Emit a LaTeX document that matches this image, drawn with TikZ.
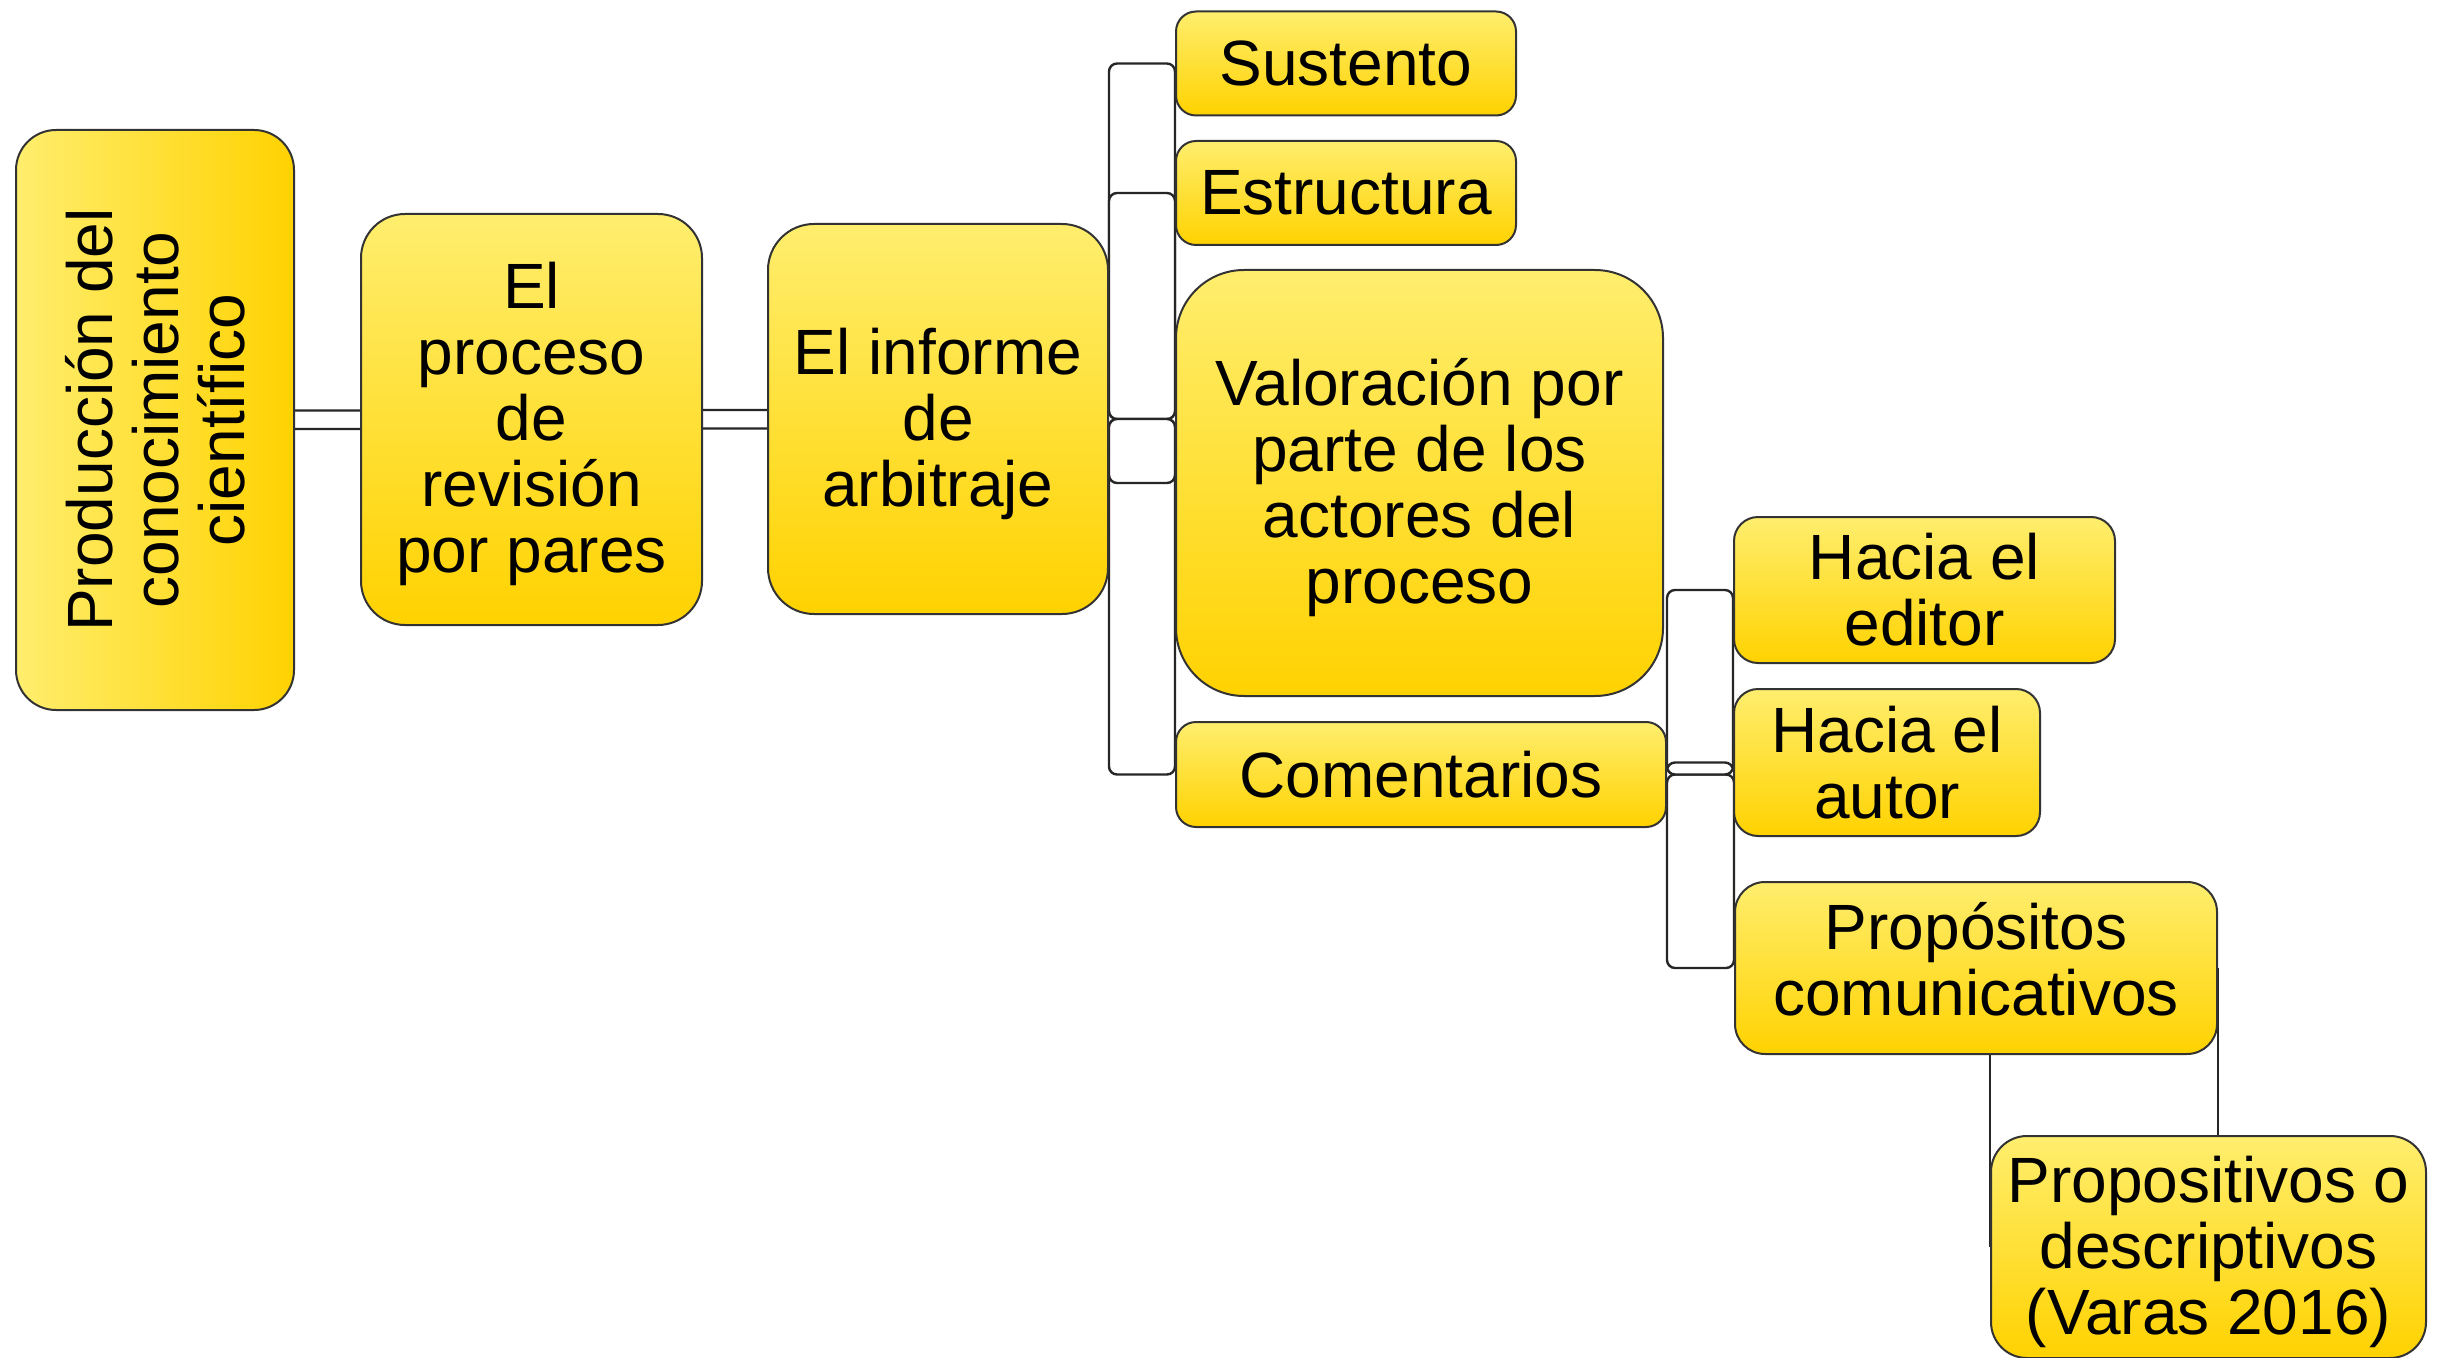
\documentclass[tikz,border=0pt]{standalone}
\usepackage{fontspec}
\setmainfont{Liberation Sans}
\usetikzlibrary{backgrounds,calc}
\definecolor{yl1}{RGB}{255,238,110}
\definecolor{yl2}{RGB}{255,210,0}
\begin{document}
\begin{tikzpicture}[x=0.5pt,y=-0.5pt,
  box/.style={draw=black!80, line width=1pt, top color=yl1, bottom color=yl2,
    rounded corners=#1, align=center, inner sep=0pt,
    font=\fontsize{32}{33}\selectfont},
  hbox/.style={draw=black!80, line width=1pt, left color=yl1, right color=yl2,
    rounded corners=#1, inner sep=0pt},
  conn/.style={draw=black!85, fill=white, line width=1.2pt, rounded corners=4pt},
  cline/.style={draw=black!85, line width=1.2pt}]
\useasboundingbox (0,0) rectangle (2451,1358);

% nodes
\node[hbox=20pt, minimum width=139pt, minimum height=290pt] (prod) at (155,420) {};
\node[rotate=90, align=center, font=\fontsize{32}{33}\selectfont] (prodtext) at (prod.center)
  {Producción del\\conocimiento\\científico};
\node[box=22pt, minimum width=170.5pt, minimum height=205.5pt, text height=160pt] (proceso) at (531.5,419.5)
  {El\\proceso\\de\\revisión\\por pares};
\node[box=23pt, minimum width=170pt, minimum height=195pt, text height=94pt] (informe) at (938,419)
  {El informe\\de\\arbitraje};
\node[box=10pt, minimum width=170pt, minimum height=52pt] (sustento) at (1346,63.5) {Sustento};
\node[box=10pt, minimum width=170pt, minimum height=52pt] (estructura) at (1346,193) {Estructura};
\node[box=34pt, minimum width=243.5pt, minimum height=213pt, text height=127pt] (valoracion) at (1419.5,483)
  {Valoración por\\parte de los\\actores del\\proceso};
\node[box=10pt, minimum width=245pt, minimum height=52.5pt] (comentarios) at (1421,774.5) {Comentarios};
\node[box=12pt, minimum width=190.5pt, minimum height=73pt] (editor) at (1924.5,590) {Hacia el\\editor};
\node[box=12pt, minimum width=153pt, minimum height=73.5pt] (autor) at (1887,762.5) {Hacia el\\autor};
\node[box=15pt, minimum width=241pt, minimum height=86pt, text depth=9.5pt] (propositos) at (1976,968)
  {Propósitos\\comunicativos};
\node[box=18pt, minimum width=217.5pt, minimum height=111pt, text height=94pt] (propositivos) at (2208.5,1247)
  {Propositivos o\\descriptivos\\(Varas 2016)};

% connectors
\begin{pgfonlayer}{background}
\draw[conn] ($(prod.east)+(-20,-9.5)$) rectangle ($(proceso.west)+(20,9.5)$);
\draw[conn] ($(proceso.east)+(-20,-9.5)$) rectangle ($(informe.west)+(20,9.5)$);
\draw[conn] (informe.east |- sustento.west) rectangle (sustento.west |- informe.east);
\draw[conn] (informe.east |- estructura.west) rectangle (estructura.west |- informe.east);
\draw[conn] (informe.east) rectangle (comentarios.west);
\draw[conn] (informe.east) rectangle (valoracion.west);
\draw[conn] (comentarios.east |- editor.west) rectangle (editor.west |- comentarios.east);
\draw[conn] (comentarios.east) rectangle (propositos.west);
\draw[conn] (comentarios.east |- autor.west) rectangle (autor.west |- comentarios.east);
\draw[cline] (propositivos.west |- propositos.center) -- (propositivos.west);
\draw[cline] (propositos.east) -- (propositos.east |- propositivos.north);
\end{pgfonlayer}
\end{tikzpicture}
\end{document}
